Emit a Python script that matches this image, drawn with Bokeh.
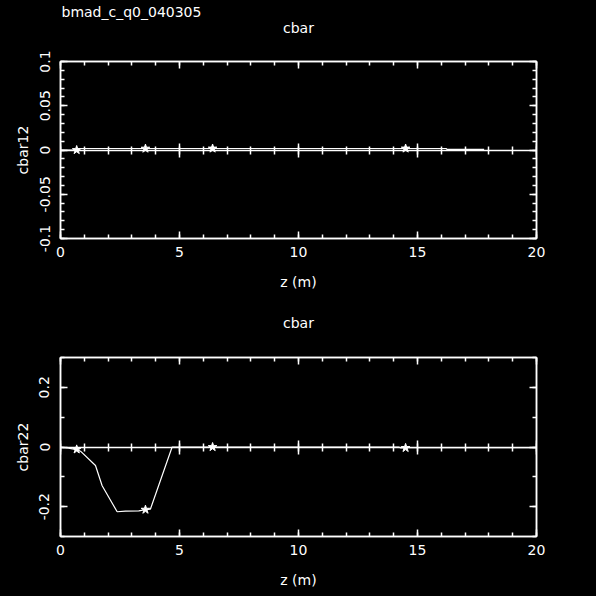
from bokeh.plotting import figure
from bokeh.models import LinearAxis, Range1d, FixedTicker, CustomJSTickFormatter, Label
from bokeh.layouts import column
from bokeh.embed import file_html
from bokeh.resources import INLINE

FONT = "DejaVu Sans"

# ---- data ----
header_text = "bmad_c_q0_040305"
plot_title = "cbar"
x_label = "z (m)"

x_major = [0, 5, 10, 15, 20]
x_minor = list(range(0, 21))

y12_major = [-0.1, -0.05, 0.0, 0.05, 0.1]
y12_labels = ["-0.1", "-0.05", "0", "0.05", "0.1"]
y12_minor = [round(-0.1 + 0.01 * i, 2) for i in range(21)]

y22_major = [-0.2, 0.0, 0.2]
y22_labels = ["-0.2", "0", "0.2"]
y22_minor = [-0.3, -0.2, -0.1, 0.0, 0.1, 0.2, 0.3]

z12 = [0.0, 0.68, 0.75, 3.57, 6.39, 14.5, 16.2, 16.25, 17.8]
cbar12 = [0.0, 0.0, 0.0017, 0.0017, 0.0017, 0.0017, 0.0017, 0.0006, 0.0006]
star12_z = [0.68, 3.57, 6.39, 14.5]
star12_v = [0.0, 0.0016, 0.0017, 0.0017]

z22 = [0.0, 0.08, 0.34, 0.5, 0.67, 0.84, 1.47, 1.75, 2.38, 2.73, 3.29, 3.57,
       3.78, 4.69, 6.39, 14.2, 14.3, 14.6, 20.0]
cbar22 = [0.0, -0.001, -0.004, -0.006, -0.008, -0.014, -0.062, -0.13, -0.217,
          -0.215, -0.214, -0.21, -0.208, 0.0, 0.0, 0.0, -0.003, -0.002, -0.002]
star22_z = [0.68, 3.57, 6.39, 14.5]
star22_v = [-0.008, -0.21, 0.0, -0.003]

BLANK = CustomJSTickFormatter(code="return ''")


def style_axis(ax, tick_out=0):
    ax.axis_line_color = "white"
    ax.axis_line_width = 1.5
    ax.major_tick_line_color = "white"
    ax.minor_tick_line_color = "white"
    ax.major_tick_line_width = 1.5
    ax.minor_tick_line_width = 1.5
    ax.major_tick_in = 7
    ax.major_tick_out = tick_out
    ax.minor_tick_in = 4
    ax.minor_tick_out = 4 if tick_out else 0
    ax.major_label_text_color = "white"
    ax.major_label_text_font = FONT
    ax.major_label_text_font_size = "14px"
    ax.axis_label_text_color = "white"
    ax.axis_label_text_font = FONT
    ax.axis_label_text_font_size = "14px"
    ax.axis_label_text_font_style = "normal"


def make_plot(yr, ymaj, ymin, ylabels, ylab, xs, ys, sz, sv, header, title_gap):
    p = figure(width=596, height=298, x_range=Range1d(0, 20), y_range=Range1d(*yr),
               output_backend="svg", toolbar_location=None,
               x_axis_location=None, y_axis_location=None,
               min_border_left=60, min_border_right=60,
               min_border_top=59, min_border_bottom=60,
               background_fill_color="black", border_fill_color="black",
               outline_line_color="white", outline_line_width=1.5)
    p.grid.visible = False

    xt = FixedTicker(ticks=x_major, minor_ticks=x_minor)
    yt = FixedTicker(ticks=ymaj, minor_ticks=ymin)

    xb = LinearAxis(ticker=xt, axis_label=x_label)
    style_axis(xb)
    xb.major_label_standoff = 8
    xb.axis_label_standoff = 14
    p.add_layout(xb, "below")

    # top axis: ticks only, its axis label is the panel title
    xa = LinearAxis(ticker=xt, formatter=BLANK, axis_label=plot_title)
    style_axis(xa)
    xa.major_label_standoff = 0
    xa.axis_label_standoff = title_gap
    p.add_layout(xa, "above")

    x0 = LinearAxis(ticker=xt, formatter=BLANK, fixed_location=0)
    style_axis(x0, tick_out=7)
    p.add_layout(x0, "below")

    yl = LinearAxis(ticker=yt, axis_label=ylab,
                    major_label_overrides=dict(zip(ymaj, ylabels)))
    style_axis(yl)
    yl.major_label_orientation = "vertical"
    yl.major_label_standoff = 11
    yl.axis_label_standoff = 6
    p.add_layout(yl, "left")

    yr_ax = LinearAxis(ticker=yt, formatter=BLANK)
    style_axis(yr_ax)
    yr_ax.major_label_standoff = 0
    p.add_layout(yr_ax, "right")

    if header:
        p.add_layout(Label(x=61, y=11, x_units="canvas", y_units="canvas",
                           text=header_text, text_align="left",
                           text_baseline="middle", text_color="white",
                           text_font=FONT, text_font_size="14px"), "above")

    p.line(xs, ys, line_color="white", line_width=1.2)
    p.scatter(sz, sv, marker="star", size=9, fill_color="white", line_color="white")
    return p


p1 = make_plot((-0.1, 0.1), y12_major, y12_minor, y12_labels, "cbar12",
               z12, cbar12, star12_z, star12_v, True, 26)
p2 = make_plot((-0.3, 0.3), y22_major, y22_minor, y22_labels, "cbar22",
               z22, cbar22, star22_z, star22_v, False, 27)

layout = column(p1, p2, spacing=0, styles={"background-color": "black"})
open("out.html", "w").write(file_html(layout, INLINE))
